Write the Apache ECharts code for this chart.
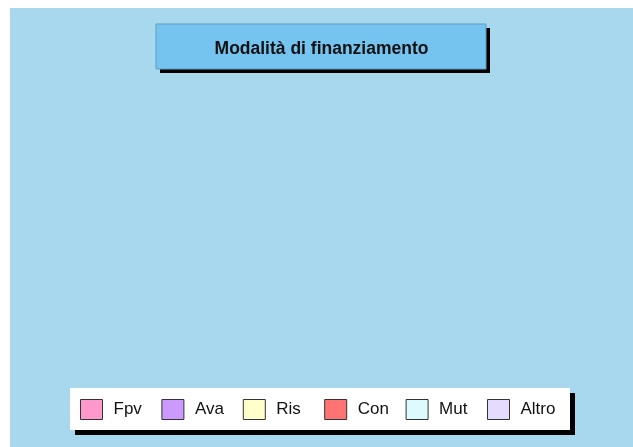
<!DOCTYPE html>
<html>
	<head>
		<meta charset="UTF-8">
		<title>Modalità di finanziamento</title>
		<script src="https://cdn.jsdelivr.net/npm/echarts@6/dist/echarts.min.js" type="text/javascript" charset="utf-8"></script>
		<style>
			html, body { margin: 0; padding: 0; background: #fff; }
			#chart { position: absolute; left: 10px; top: 8px; width: 623px; height: 439px; }
		</style>
	</head>
	<body>
		<div id="chart"></div>
	</body>
	<script type="text/javascript">
		// dati
		var categorie = ['Fpv', 'Ava', 'Ris', 'Con', 'Mut', 'Altro'];
		var valori = [0, 0, 0, 0, 0, 0];
		var colori = ['#ff99cc', '#cc99ff', '#ffffcc', '#ff7373', '#ddfbff', '#e4dbff'];

		var chart = echarts.init(document.getElementById('chart'));

		var dati = categorie.map(function (c, i) {
			return { name: c, value: valori[i], itemStyle: { color: colori[i] } };
		});

		// una legenda per voce, con passo fisso come nell'originale
		var legende = categorie.map(function (c, i) {
			return {
				data: [c],
				left: 70 + i * 81.4,
				top: 391,
				padding: 0,
				selectedMode: false,
				itemWidth: 22,
				itemHeight: 20,
				icon: 'rect',
				itemStyle: { borderColor: '#333', borderWidth: 1 },
				textStyle: { fontFamily: 'Liberation Sans', fontSize: 17, color: '#111', padding: [0, 0, 0, 6] }
			};
		});

		chart.setOption({
			backgroundColor: '#a8d8ee',
			animation: false,
			title: {
				text: 'Modalità di finanziamento',
				left: 'center',
				top: 27,
				textStyle: { fontFamily: 'Liberation Sans', fontSize: 17.5, fontWeight: 'bold', color: '#111' }
			},
			graphic: [{
				// ombra del riquadro titolo
				type: 'rect',
				z: -2,
				shape: { x: 150, y: 20, width: 330, height: 45 },
				style: { fill: '#000' }
			}, {
				type: 'rect',
				z: -1,
				shape: { x: 146, y: 16, width: 330, height: 45 },
				style: { fill: '#74c4ef', stroke: '#5d9fc4', lineWidth: 1 }
			}, {
				// ombra del riquadro legenda
				type: 'rect',
				z: -2,
				shape: { x: 65, y: 385, width: 500, height: 42 },
				style: { fill: '#000' }
			}, {
				type: 'rect',
				z: -1,
				shape: { x: 60, y: 380, width: 500, height: 42 },
				style: { fill: '#fff' }
			}],
			legend: legende,
			series: [{
				type: 'pie',
				radius: '45%',
				center: ['50%', '50%'],
				stillShowZeroSum: false,
				showEmptyCircle: false,
				label: { show: false },
				labelLine: { show: false },
				data: dati
			}]
		});
	</script>
</html>
